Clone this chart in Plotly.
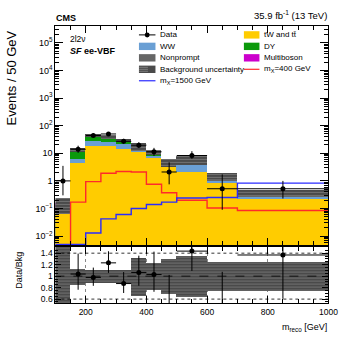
import plotly.graph_objects as go
from plotly.subplots import make_subplots

W, H = 353, 343
FONT = "Liberation Sans, Arial, sans-serif"

# binning (GeV)
bin_edges = [100, 150, 200, 250, 300, 350, 400, 450, 500, 600, 700, 1000]

# stacked backgrounds (events per bin)
bkg_tw_tt = [0.079, 4.65, 18.0, 19.0, 14.9, 11.0, 6.9, 3.15, 2.08, 0.86, 0.23]
bkg_ww = [0.003, 1.85, 9.3, 6.0, 7.1, 2.7, 1.4, 0.45, 1.8, 0.14, 0.03]
bkg_dy = [0.0, 6.4, 10.7, 8.0, 3.0, 1.8, 0.5, 0.1, 0.3, 0.03, 0.01]
bkg_nonprompt = [0.068, 0.5, 6.5, 7.1, 5.6, 2.7, 2.0, 0.85, 1.5, 0.55, 0.1]
bkg_multiboson = [0.005, 0.1, 0.5, 0.5, 0.4, 0.3, 0.2, 0.05, 0.1, 0.02, 0.01]
bkg_rel_unc = [0.6, 0.14, 0.12, 0.12, 0.11, 0.33, 0.23, 0.31, 0.35, 0.25, 0.25]

# observed data
data_obs = [1.0, 14.0, 44.0, 50.0, 27.0, 19.7, 11.3, 2.1, 8.3, 0.52, 0.52]
data_err_up = [2.5, 4.8, 7.7, 8.2, 6.2, 5.4, 4.4, 2.6, 3.6, 1.2, 0.48]
data_err_down = [0.7, 3.7, 6.6, 7.1, 5.1, 4.3, 3.3, 1.35, 2.0, 0.43, 0.29]

# signal hypotheses
sig_mx400 = [1e-4, 0.17, 0.94, 1.9, 2.2, 2.1, 0.76, 0.37, 0.2, 0.105, 0.085]
sig_mx1500 = [0.005, 0.005, 0.013, 0.042, 0.061, 0.1, 0.14, 0.17, 0.24, 0.25, 0.83]

# axis ticks
y_tick_vals = [1e-2, 1e-1, 1, 10, 1e2, 1e3, 1e4, 1e5]
y_tick_text = ["10<sup>−2</sup>", "10<sup>−1</sup>", "1", "10",
               "10<sup>2</sup>", "10<sup>3</sup>", "10<sup>4</sup>", "10<sup>5</sup>"]
x_tick_vals = [200, 400, 600, 800, 1000]
ratio_tick_vals = [0.6, 0.8, 1.0, 1.2, 1.4]
ratio_tick_text = ["0.6", "0.8", "1", "1.2", "1.4"]
ratio_ref_lines = [0.6, 1.0, 1.4]

COLORS = {
    "tt": "#ffcc00",
    "ww": "#6a9fd4",
    "dy": "#0b990b",
    "np": "#666666",
    "mb": "#cc00cc",
    "unc": "#4a4a4a",
    "s400": "#ff2a2a",
    "s1500": "#2a2aff",
}

centers = [(a + b) / 2 for a, b in zip(bin_edges[:-1], bin_edges[1:])]
widths = [b - a for a, b in zip(bin_edges[:-1], bin_edges[1:])]
half_w = [w / 2 for w in widths]

# cumulative stack
stack = [
    ("tt", bkg_tw_tt),
    ("ww", bkg_ww),
    ("dy", bkg_dy),
    ("np", bkg_nonprompt),
    ("mb", bkg_multiboson),
]
cum = []
running = [0.0] * len(centers)
for key, vals in stack:
    running = [r + v for r, v in zip(running, vals)]
    cum.append((key, list(running)))
total = running

fig = make_subplots(rows=2, cols=1, shared_xaxes=True)

BASE = 1e-4
for key, top in reversed(cum):
    fig.add_trace(
        go.Bar(
            x=centers, y=[t - BASE for t in top], base=BASE, width=widths,
            marker=dict(color=COLORS[key], line=dict(width=0)),
            showlegend=False,
        ),
        row=1, col=1,
    )

# background uncertainty band
unc_pattern = dict(shape="-", fgcolor="#a0a0a0", bgcolor=COLORS["unc"], size=3, solidity=0.3)
fig.add_trace(
    go.Bar(
        x=centers,
        y=[2 * t * u for t, u in zip(total, bkg_rel_unc)],
        base=[t * (1 - u) for t, u in zip(total, bkg_rel_unc)],
        width=widths,
        marker=dict(color=COLORS["unc"], line=dict(width=0), pattern=unc_pattern),
        showlegend=False,
    ),
    row=1, col=1,
)

# signal lines
for vals, key in [(sig_mx400, "s400"), (sig_mx1500, "s1500")]:
    fig.add_trace(
        go.Scatter(
            x=bin_edges, y=vals + [vals[-1]], mode="lines", line_shape="hv",
            line=dict(color=COLORS[key], width=1.4), showlegend=False,
        ),
        row=1, col=1,
    )

# data
fig.add_trace(
    go.Scatter(
        x=centers, y=data_obs, mode="markers",
        marker=dict(color="black", size=5),
        error_y=dict(type="data", array=data_err_up, arrayminus=data_err_down,
                     color="black", thickness=1, width=0),
        error_x=dict(type="data", array=half_w, color="black", thickness=1, width=0),
        showlegend=False,
    ),
    row=1, col=1,
)

# ratio panel
fig.add_trace(
    go.Bar(
        x=centers,
        y=[2 * u for u in bkg_rel_unc],
        base=[1 - u for u in bkg_rel_unc],
        width=widths,
        marker=dict(color=COLORS["unc"], line=dict(width=0), pattern=unc_pattern),
        showlegend=False,
    ),
    row=2, col=1,
)
ratio = [d / t for d, t in zip(data_obs, total)]
fig.add_trace(
    go.Scatter(
        x=centers, y=ratio, mode="markers",
        marker=dict(color="black", size=5),
        error_y=dict(type="data", array=[e / t for e, t in zip(data_err_up, total)],
                     arrayminus=[e / t for e, t in zip(data_err_down, total)],
                     color="black", thickness=1, width=0),
        error_x=dict(type="data", array=half_w, color="black", thickness=1, width=0),
        showlegend=False,
    ),
    row=2, col=1,
)

for v in ratio_ref_lines:
    fig.add_shape(
        type="line", xref="x2", yref="y2", x0=bin_edges[0], x1=bin_edges[-1], y0=v, y1=v,
        line=dict(color="black", width=0.8, dash="dash" if v == 1.0 else "dot"),
    )


def px(x, y):
    return x / W, 1 - y / H


# manual ROOT-style legend
legend_left = [
    ("data", "Data"),
    ("ww", "WW"),
    ("np", "Nonprompt"),
    ("unc", "Background uncertainty"),
    ("s1500", "m<sub>X</sub>=1500 GeV"),
]
legend_right = [
    ("tt", "tW and tt\u0304"),
    ("dy", "DY"),
    ("mb", "Multiboson"),
    ("s400", "m<sub>X</sub>=400 GeV"),
]
row_y = [35, 46.5, 58, 69.5, 81]
for entries, x0, x1 in [(legend_left, 143, 160), (legend_right, 251, 267)]:
    for (key, label), yy in zip(entries, row_y):
        xa, ya = px(x0, yy - 3.7)
        xb, yb = px(x1, yy + 3.7)
        xm, ym = px((x0 + x1) / 2, yy)
        if key == "data":
            fig.add_shape(type="line", xref="paper", yref="paper", x0=xa, x1=xb, y0=ym, y1=ym,
                          line=dict(color="black", width=1))
            fig.add_shape(type="circle", xref="paper", yref="paper",
                          x0=px((x0 + x1) / 2 - 2.5, 0)[0], x1=px((x0 + x1) / 2 + 2.5, 0)[0],
                          y0=px(0, yy + 2.5)[1], y1=px(0, yy - 2.5)[1],
                          fillcolor="black", line=dict(width=0))
        elif key.startswith("s"):
            fig.add_shape(type="line", xref="paper", yref="paper", x0=xa, x1=xb, y0=ym, y1=ym,
                          line=dict(color=COLORS[key], width=1.2))
        else:
            fig.add_shape(type="rect", xref="paper", yref="paper", x0=xa, x1=xb, y0=yb, y1=ya,
                          fillcolor=COLORS[key], line=dict(width=0))
            if key == "unc":
                for dy in (-2, 0, 2):
                    yl = px(0, yy + dy)[1]
                    fig.add_shape(type="line", xref="paper", yref="paper",
                                  x0=xa, x1=xb, y0=yl, y1=yl,
                                  line=dict(color="#a0a0a0", width=0.6, dash="dash"))
        tx, ty = px(x1 + 2.5, yy)
        fig.add_annotation(x=tx, y=ty, xref="paper", yref="paper", text=label,
                           showarrow=False, xanchor="left", yanchor="middle",
                           font=dict(size=8, color="black"))

texts = [
    (56, 18, "<b>CMS</b>", 9, "left", 0),
    (339, 15, "35.9 fb<sup>-1</sup> (13 TeV)", 9.5, "right", 0),
    (70, 39, "2l2ν", 8.5, "left", 0),
    (70, 51, "<b><i>SF</i> ee-VBF</b>", 9, "left", 0),
    (339, 328, "m<sub>reco</sub> [GeV]", 9, "right", 0),
]
for x, y, t, s, anc, ang in texts:
    ax_, ay_ = px(x, y)
    fig.add_annotation(x=ax_, y=ay_, xref="paper", yref="paper", text=t, showarrow=False,
                       xanchor=anc, yanchor="middle", font=dict(size=s, color="black"))

for x, y, t, s in [(12, 78, "Events / 50 GeV", 13), (20, 271, "Data/Bkg", 9)]:
    ax_, ay_ = px(x, y)
    fig.add_annotation(x=ax_, y=ay_, xref="paper", yref="paper", text=t, showarrow=False,
                       textangle=-90, xanchor="center", yanchor="middle",
                       font=dict(size=s, color="black"))

x_dom = [57 / W, 338 / W]
axis_common = dict(showline=True, linecolor="black", linewidth=1, mirror="ticks",
                   ticks="inside", tickcolor="black", zeroline=False, showgrid=False)

minor_log = [m * 10 ** k for k in range(-3, 6) for m in range(2, 10)]

fig.update_layout(
    width=W, height=H, autosize=False,
    margin=dict(l=0, r=0, t=0, b=0),
    paper_bgcolor="white", plot_bgcolor="white",
    barmode="overlay", bargap=0,
    font=dict(family=FONT, color="black"),
    showlegend=False,
    xaxis=dict(axis_common, domain=x_dom, range=[100, 1000], showticklabels=False,
               tickvals=x_tick_vals, ticklen=7,
               minor=dict(dtick=50, tick0=100, ticks="inside", ticklen=4, tickcolor="black")),
    yaxis=dict(axis_common, domain=[(H - 245.7) / H, (H - 26) / H], type="log",
               range=[-2.32, 5.61], tickvals=y_tick_vals, ticktext=y_tick_text,
               ticklen=8, tickfont=dict(size=9),
               minor=dict(tickmode="array", tickvals=minor_log, ticks="inside",
                          ticklen=4, tickcolor="black")),
    xaxis2=dict(axis_common, domain=x_dom, range=[100, 1000], tickvals=x_tick_vals,
                ticklen=7, tickfont=dict(size=8.5), showgrid=True, griddash="dot",
                gridcolor="#888888", gridwidth=0.8,
                minor=dict(dtick=50, tick0=100, ticks="inside", ticklen=4, tickcolor="black")),
    yaxis2=dict(axis_common, domain=[(H - 304.3) / H, (H - 247.3) / H], range=[0.525, 1.515],
                tickvals=ratio_tick_vals, ticktext=ratio_tick_text, ticklen=6,
                tickfont=dict(size=8.5),
                minor=dict(dtick=0.05, tick0=0.5, ticks="inside", ticklen=3, tickcolor="black")),
)

# drop the default page margin so the figure sits at the window origin
fig.write_html("out.html", config={"displayModeBar": False},
               post_script="document.body.style.margin='0';")
